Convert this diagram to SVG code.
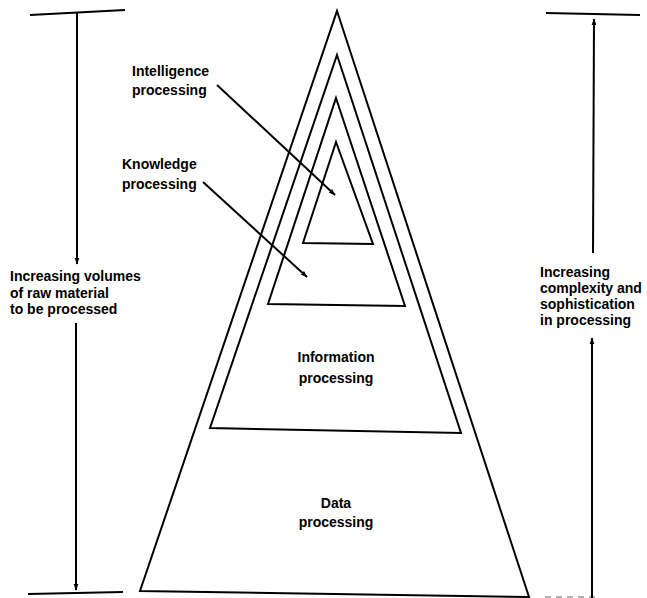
<svg xmlns="http://www.w3.org/2000/svg" width="647" height="598" viewBox="0 0 647 598">
  <defs>
    <marker id="head" viewBox="0 0 10 10" refX="9" refY="5" markerWidth="7" markerHeight="7" markerUnits="userSpaceOnUse" orient="auto">
      <path d="M0,1.5 L10,5 L0,8.5 Z" fill="#000"/>
    </marker>
    <style>
      .tri { fill: none; stroke: #000; stroke-width: 2; stroke-linejoin: miter; }
      .rule { fill: none; stroke: #000; stroke-width: 2; }
      .arrow { fill: none; stroke: #000; stroke-width: 2; marker-end: url(#head); }
      .lbl { font-family: "Liberation Sans", Arial, sans-serif; font-size: 14px; font-weight: bold; fill: #000; }
      .mid { text-anchor: middle; }
    </style>
  </defs>

  <rect width="647" height="598" fill="#fff"/>

  <!-- nested processing pyramid -->
  <g id="data-processing">
    <polygon class="tri" points="337,11 529,597 140,591"/>
    <text class="lbl mid" x="336" y="508">Data</text>
    <text class="lbl mid" x="336" y="527">processing</text>
  </g>

  <g id="information-processing">
    <polygon class="tri" points="337,55 461,433 210,428"/>
    <text class="lbl mid" x="336" y="362">Information</text>
    <text class="lbl mid" x="336" y="383">processing</text>
  </g>

  <g id="knowledge-processing">
    <polygon class="tri" points="336,98 405,306 268,304"/>
    <text class="lbl" x="122" y="169">Knowledge</text>
    <text class="lbl" x="122" y="189">processing</text>
  </g>

  <g id="intelligence-processing">
    <polygon class="tri" points="336,142 373,244 303,243"/>
    <text class="lbl" x="132" y="76">Intelligence</text>
    <text class="lbl" x="132" y="95">processing</text>
  </g>

  <!-- side scales -->
  <g id="volume-scale">
    <line class="rule" x1="30" y1="15" x2="125" y2="10"/>
    <line class="rule" x1="28" y1="594" x2="123" y2="592"/>
    <text class="lbl" x="10" y="281">Increasing volumes</text>
    <text class="lbl" x="10" y="298">of raw material</text>
    <text class="lbl" x="10" y="314">to be processed</text>
  </g>

  <g id="complexity-scale">
    <line class="rule" x1="546" y1="13" x2="640" y2="15"/>
    <line x1="545" y1="597" x2="600" y2="597" stroke="#999" stroke-width="1.5" stroke-dasharray="6 5"/>
    <text class="lbl" x="540" y="277">Increasing</text>
    <text class="lbl" x="540" y="293">complexity and</text>
    <text class="lbl" x="540" y="309">sophistication</text>
    <text class="lbl" x="540" y="325">in processing</text>
  </g>

  <!-- connectors -->
  <g id="connectors">
    <line class="arrow" x1="217" y1="85" x2="335" y2="195"/>
    <line class="arrow" x1="203" y1="182" x2="307" y2="277"/>
    <line class="arrow" x1="77" y1="13" x2="77" y2="264"/>
    <line class="arrow" x1="76" y1="323" x2="76" y2="590"/>
    <line class="arrow" x1="593" y1="253" x2="594" y2="19"/>
    <line class="arrow" x1="592" y1="598" x2="592" y2="338"/>
  </g>
</svg>
